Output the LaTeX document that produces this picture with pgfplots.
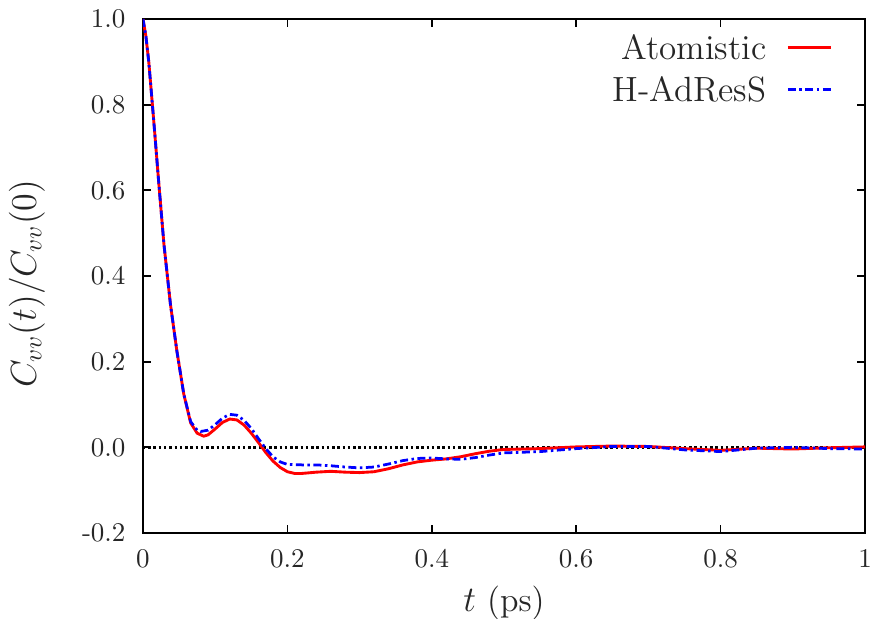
\documentclass[border=0pt]{standalone}
\usepackage{pgfplots}
\pgfplotsset{compat=1.18}
\begin{document}
\begin{tikzpicture}
\begin{axis}[
  name=ax,
  scale only axis,
  width=288.8pt, height=205.6pt,
  xmin=0, xmax=1, ymin=-0.2, ymax=1.0,
  xtick={0,0.2,0.4,0.6,0.8,1},
  xticklabels={0,0.2,0.4,0.6,0.8,1},
  ytick={-0.2,0,0.2,0.4,0.6,0.8,1.0},
  yticklabels={-0.2,0.0,0.2,0.4,0.6,0.8,1.0},
  tick align=inside,
  major tick length=3.3pt,
  tick style={line width=0.7pt, black},
  axis line style={line width=0.8pt},
  ticklabel style={font=\fontsize{10.8}{13}\selectfont, text=black!85},
  xticklabel style={anchor=base, inner sep=0pt, yshift=-14pt},
  yticklabel style={anchor=east, inner sep=0pt, xshift=-6.8pt},
  xlabel={$t$ (ps)},
  ylabel={$C_{vv}(t)/C_{vv}(0)$},
  label style={font=\fontsize{13.6}{16}\selectfont, text=black!85},
  xlabel style={at={(axis description cs:0.5,0)}, anchor=base, inner sep=0pt, yshift=-31.6pt},
  ylabel style={at={(axis description cs:-0.1607,0.485)}, anchor=center, inner sep=0pt, rotate=0},
  legend style={draw=none, fill=none, at={(rel axis cs:1,1)}, anchor=north east,
    xshift=-13.2pt, yshift=-6.6pt, inner sep=0pt, outer sep=0pt,
    font=\fontsize{14}{16}\selectfont, text=black!85,
    nodes={inner sep=0pt, text height=9.8pt, text depth=0pt},
    row sep=6.9pt, column sep=8pt},
  legend cell align=right,
  legend plot pos=right,
]
\addplot[black, line width=1pt, dash pattern=on 1pt off 1.1pt, forget plot] coordinates {(0,0) (1,0)};
\addplot[red, line width=1.15pt] coordinates {
(0,1.0) (0.004,0.96) (0.008,0.90) (0.015,0.76) (0.022,0.614) (0.029,0.474)
(0.038,0.334) (0.047,0.224) (0.0565,0.124) (0.066,0.057) (0.075,0.033)
(0.084,0.026) (0.09,0.029) (0.1,0.043) (0.11,0.058) (0.12,0.066) (0.13,0.064)
(0.14,0.052) (0.15,0.033) (0.16,0.011) (0.17,-0.012) (0.18,-0.032) (0.19,-0.047)
(0.2,-0.057) (0.21,-0.061) (0.22,-0.061) (0.24,-0.058) (0.26,-0.056) (0.28,-0.058)
(0.30,-0.059) (0.32,-0.057) (0.34,-0.050) (0.36,-0.041) (0.38,-0.034) (0.40,-0.030)
(0.42,-0.027) (0.44,-0.022) (0.46,-0.015) (0.48,-0.009) (0.50,-0.005) (0.55,-0.003)
(0.60,0.001) (0.65,0.003) (0.70,0.002) (0.75,-0.003) (0.80,-0.007) (0.85,-0.002)
(0.90,-0.004) (0.95,-0.001) (1.0,0.001)
};
\addlegendentry{Atomistic}
\addplot[blue, line width=1.1pt, dash pattern=on 3.2pt off 1.4pt on 1pt off 1.4pt] coordinates {
(0,1.0) (0.004,0.96) (0.008,0.90) (0.015,0.76) (0.022,0.614) (0.029,0.474)
(0.038,0.334) (0.047,0.224) (0.0565,0.124) (0.066,0.060) (0.075,0.040)
(0.08,0.037) (0.09,0.040) (0.10,0.053) (0.11,0.068) (0.12,0.077) (0.13,0.075)
(0.14,0.063) (0.15,0.044) (0.16,0.020) (0.17,-0.003) (0.18,-0.022) (0.19,-0.034)
(0.20,-0.040) (0.22,-0.041) (0.24,-0.041) (0.26,-0.043) (0.28,-0.046) (0.30,-0.048)
(0.32,-0.046) (0.34,-0.039) (0.36,-0.031) (0.38,-0.026) (0.40,-0.025) (0.42,-0.027)
(0.44,-0.028) (0.46,-0.024) (0.48,-0.018) (0.50,-0.013) (0.55,-0.010) (0.60,-0.003)
(0.65,0.002) (0.70,0.002) (0.75,-0.006) (0.80,-0.010) (0.85,-0.002) (0.90,0.000)
(0.95,-0.003) (1.0,-0.004)
};
\addlegendentry{H-AdResS}
\end{axis}
\pgfresetboundingbox
\path[use as bounding box] ([shift={(-57.2pt,-34.4pt)}]ax.south west) rectangle ([shift={(4.4pt,7.6pt)}]ax.north east);
\end{tikzpicture}
\end{document}
